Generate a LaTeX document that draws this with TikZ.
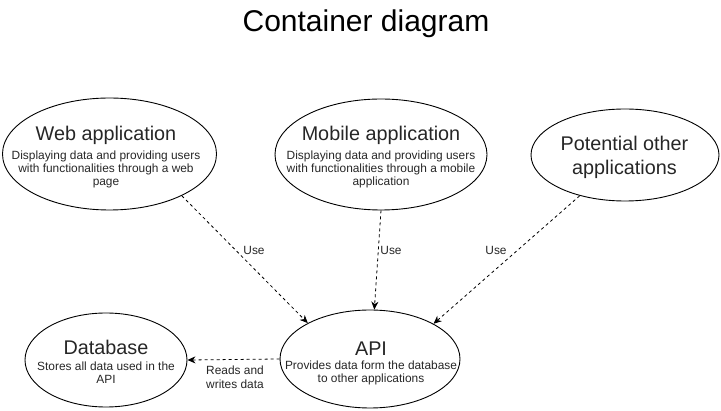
\documentclass[tikz,border=0pt]{standalone}
\usepackage{fontspec}
\setmainfont{Liberation Sans}
\usetikzlibrary{shapes.geometric,arrows.meta}
\begin{document}
\begin{tikzpicture}[x=1pt,y=-1pt,
  ell/.style={draw=black,line width=0.9pt,ellipse,inner sep=0pt},
  ttl/.style={inner sep=0pt,align=center,font=\fontsize{19.8}{24}\selectfont,text=black!85},
  desc/.style={inner sep=0pt,align=center,font=\fontsize{11.9}{13.2}\selectfont,text=black!85},
  lbl/.style={inner sep=1pt,align=center,font=\fontsize{11.9}{14}\selectfont,text=black!85},
  use/.style={draw=black,line width=0.8pt,dash pattern=on 3pt off 3pt,-{Stealth[length=8pt,width=7pt,inset=2.5pt]}}
]
\useasboundingbox (0,0) rectangle (721,411);
\node[inner sep=0pt,font=\fontsize{30}{36}\selectfont] (title) at (366,24) {Container diagram};
% ellipses
\node[ell,minimum width=214pt,minimum height=112pt] (web) at (109.5,154) {};
\node[ell,minimum width=212pt,minimum height=111pt] (mob) at (381,154.5) {};
\node[ell,minimum width=188pt,minimum height=92pt] (oth) at (625,155) {};
\node[ell,minimum width=162pt,minimum height=94pt] (db) at (106,360) {};
\node[ell,minimum width=180pt,minimum height=98pt] (api) at (370,359) {};
% texts
\node[ttl] (webT) at (106,135) {Web application};
\node[desc] (webD) at (106,169.5) {Displaying data and providing users\\with functionalities through a web\\page};
\node[ttl] (mobT) at (381,135) {Mobile application};
\node[desc] (mobD) at (381,169.5) {Displaying data and providing users\\with functionalities through a mobile\\application};
\node[ttl] (othT) at (624.5,157) {Potential other\\applications};
\node[ttl] (dbT) at (106,347) {Database};
\node[desc] (dbD) at (106,373) {Stores all data used in the\\API};
\node[ttl] (apiT) at (371,349) {API};
\node[desc] (apiD) at (371,373) {Provides data form the database\\to other applications};
% connectors
\draw[use] (web.-30) -- (api.150);
\draw[use] (mob.south) -- (api.85);
\draw[use] (oth.-138) -- (api.29);
\draw[use] (api.west) -- (db.east);
% labels
\node[lbl] (use1) at (254,250) {Use};
\node[lbl] (use2) at (391,250) {Use};
\node[lbl] (use3) at (496,250) {Use};
\node[lbl] (rw) at (235,377) {Reads and\\writes data};
\end{tikzpicture}
\end{document}
